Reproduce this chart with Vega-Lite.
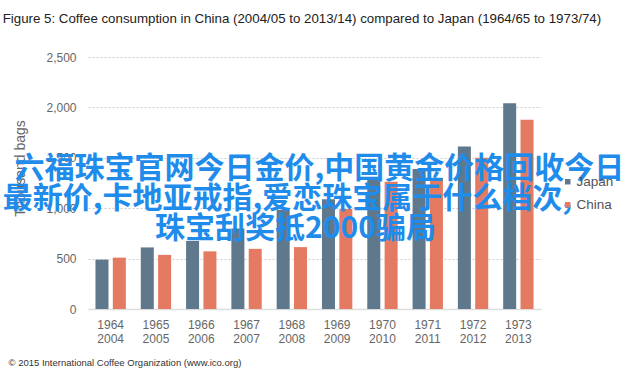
{
  "$schema": "https://vega.github.io/schema/vega-lite/v6.json",
  "width": 453,
  "height": 262,
  "autosize": {"type": "none"},
  "padding": {"left": 88, "top": 47, "right": 99, "bottom": 68},
  "background": "white",
  "title": {
    "text": "Figure 5: Coffee consumption in China (2004/05 to 2013/14) compared to Japan (1964/65 to 1973/74)",
    "anchor": "start",
    "frame": "bounds",
    "offset": 22,
    "fontSize": 13.3,
    "font": "Liberation Sans",
    "fontWeight": "normal",
    "color": "#222222"
  },
  "config": {"view": {"stroke": null}, "font": "Liberation Sans"},
  "layer": [
    {
      "data": {
        "values": [
          {"period": "1964/2004", "country": "Japan", "value": 490},
          {"period": "1964/2004", "country": "China", "value": 510},
          {"period": "1965/2005", "country": "Japan", "value": 611},
          {"period": "1965/2005", "country": "China", "value": 537},
          {"period": "1966/2006", "country": "Japan", "value": 675},
          {"period": "1966/2006", "country": "China", "value": 572},
          {"period": "1967/2007", "country": "Japan", "value": 800},
          {"period": "1967/2007", "country": "China", "value": 597},
          {"period": "1968/2008", "country": "Japan", "value": 985},
          {"period": "1968/2008", "country": "China", "value": 614},
          {"period": "1969/2009", "country": "Japan", "value": 1088},
          {"period": "1969/2009", "country": "China", "value": 992},
          {"period": "1970/2010", "country": "Japan", "value": 1280},
          {"period": "1970/2010", "country": "China", "value": 1262},
          {"period": "1971/2011", "country": "Japan", "value": 1390},
          {"period": "1971/2011", "country": "China", "value": 1300},
          {"period": "1972/2012", "country": "Japan", "value": 1613},
          {"period": "1972/2012", "country": "China", "value": 1500},
          {"period": "1973/2013", "country": "Japan", "value": 2042},
          {"period": "1973/2013", "country": "China", "value": 1877}
        ]
      },
      "mark": {"type": "bar"},
      "encoding": {
        "x": {
          "field": "period",
          "type": "nominal",
          "sort": null,
          "scale": {"paddingInner": 0.33, "paddingOuter": 0.165},
          "axis": {
            "title": "©  2015 International Coffee Organization (www.ico.org)",
            "titleAnchor": "start",
            "titleAlign": "left",
            "titleX": -80,
            "titleY": 53,
            "titleBaseline": "middle",
            "titleFontSize": 9.5,
            "titleFontWeight": "normal",
            "titleColor": "#333333",
            "labelExpr": "split(datum.label, '/')",
            "labelAngle": 0,
            "labelFontSize": 12,
            "labelColor": "#666666",
            "labelLineHeight": 14,
            "labelPadding": 10,
            "ticks": false,
            "domainColor": "#dddddd",
            "domainWidth": 1.5
          }
        },
        "xOffset": {
          "field": "country",
          "sort": ["Japan", "China"],
          "scale": {"paddingInner": 0.25}
        },
        "y": {
          "field": "value",
          "type": "quantitative",
          "scale": {"domain": [0, 2500]},
          "axis": {
            "title": "Thousand bags",
            "titleFontSize": 14,
            "titleFontWeight": "normal",
            "titleColor": "#666666",
            "titlePadding": 18,
            "titleY": 121,
            "values": [0, 500, 1000, 1500, 2000, 2500],
            "labelExpr": "format(datum.value, ',')",
            "labelFontSize": 12,
            "labelColor": "#666666",
            "labelPadding": 12,
            "ticks": false,
            "domain": false,
            "gridColor": "#cccccc",
            "gridDash": [2, 2]
          }
        },
        "color": {
          "field": "country",
          "type": "nominal",
          "scale": {"domain": ["Japan", "China"], "range": ["#60788c", "#e47a62"]},
          "legend": {
            "title": null,
            "orient": "none",
            "legendX": 473,
            "legendY": 128,
            "symbolType": "square",
            "symbolSize": 30,
            "labelFontSize": 13.5,
            "labelColor": "#555555",
            "labelOffset": 2,
            "rowPadding": 8
          }
        }
      }
    },
    {
      "data": {"values": [{"label": "六福珠宝官网今日金价,中国黄金价格回收今日"}]},
      "mark": {"type": "text", "font": "Noto Sans CJK SC", "fontSize": 30, "fontWeight": "bold", "color": "#1f8ceb", "align": "center", "baseline": "middle"},
      "encoding": {
        "text": {"field": "label"},
        "x": {"datum": "1968/2008", "bandPosition": 1.41},
        "y": {"datum": 1393}
      }
    },
    {
      "data": {"values": [{"label": "最新价,卡地亚戒指,爱恋珠宝属于什么档次,"}]},
      "mark": {"type": "text", "font": "Noto Sans CJK SC", "fontSize": 30, "fontWeight": "bold", "color": "#1f8ceb", "align": "center", "baseline": "middle"},
      "encoding": {
        "text": {"field": "label"},
        "x": {"datum": "1968/2008", "bandPosition": 0.35},
        "y": {"datum": 1088}
      }
    },
    {
      "data": {"values": [{"label": "珠宝刮奖抵2000骗局"}]},
      "mark": {"type": "text", "font": "Noto Sans CJK SC", "fontSize": 30, "fontWeight": "bold", "color": "#1f8ceb", "align": "center", "baseline": "middle"},
      "encoding": {
        "text": {"field": "label"},
        "x": {"datum": "1968/2008", "bandPosition": 0.62},
        "y": {"datum": 792}
      }
    }
  ]
}
